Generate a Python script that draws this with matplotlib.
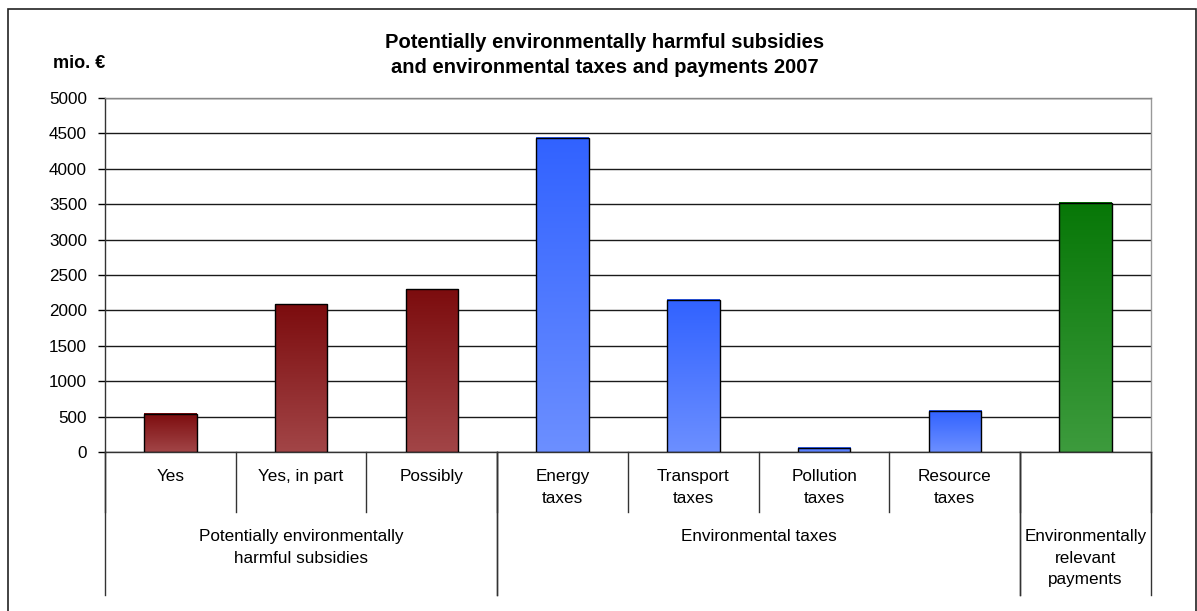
import numpy as np
import matplotlib.pyplot as plt
from matplotlib.colors import LinearSegmentedColormap
from matplotlib.patches import Rectangle
import matplotlib.transforms as mtransforms

plt.rcParams['font.family'] = ['Liberation Sans', 'DejaVu Sans']

# values in mio. EUR, 2007
categories = ["Yes", "Yes, in part", "Possibly",
              "Energy\ntaxes", "Transport\ntaxes", "Pollution\ntaxes", "Resource\ntaxes",
              ""]
values = [540, 2090, 2300, 4440, 2150, 60, 580, 3520]
kinds = ["sub", "sub", "sub", "tax", "tax", "tax", "tax", "pay"]

groups = ["Potentially environmentally\nharmful subsidies",
          "Environmental taxes",
          "Environmentally\nrelevant\npayments"]
group_sizes = [3, 4, 1]

# top colour -> bottom colour of each bar gradient
gradients = {
    "sub": ("#7c0c0e", "#a24547"),
    "tax": ("#3162ff", "#6c8fff"),
    "pay": ("#077707", "#3d9b3d"),
}

FS = 12.3

fig = plt.figure(figsize=(11.97, 6.11), dpi=100)
ax = fig.add_axes([105 / 1197, 1 - 452 / 611, (1151 - 105) / 1197, (452 - 98) / 611])

x = np.arange(len(values))
bars = ax.bar(x, values, width=0.4, facecolor="none", edgecolor="black", linewidth=1.0, zorder=3)

grad = np.linspace(0, 1, 256).reshape(-1, 1)
for bar, k in zip(bars, kinds):
    cmap = LinearSegmentedColormap.from_list(k, [gradients[k][1], gradients[k][0]])
    x0, w, h = bar.get_x(), bar.get_width(), bar.get_height()
    ax.imshow(grad, cmap=cmap, origin="lower", aspect="auto",
              extent=(x0, x0 + w, 0, h), zorder=2)

ax.set_xlim(-0.5, len(values) - 0.5)
ax.set_ylim(0, 5000)
ax.set_yticks(np.arange(0, 5001, 500))
ax.set_xticks([])
ax.tick_params(axis="y", labelsize=FS, length=5, width=1, direction="out", pad=8)
ax.yaxis.grid(True, color="#1a1a1a", linewidth=1.0, zorder=1)
ax.set_axisbelow(True)

ax.spines["left"].set_color("#333333")
ax.spines["bottom"].set_color("#333333")
ax.spines["top"].set_color("#888888")
ax.spines["right"].set_color("#999999")
for s in ax.spines.values():
    s.set_linewidth(1.0)

# two-level category axis below the bars
trans = mtransforms.blended_transform_factory(ax.transData, ax.transAxes)
lvl1 = -(512 - 452) / (452 - 98)
lvl2 = -(595 - 452) / (452 - 98)

for b in np.arange(len(values) + 1) - 0.5:
    ax.plot([b, b], [0, lvl1], transform=trans, color="#333333", lw=1.0, clip_on=False)

start = 0
for g, n in zip(groups, group_sizes):
    for b in (start - 0.5, start + n - 0.5):
        ax.plot([b, b], [0, lvl2], transform=trans, color="#333333", lw=1.0, clip_on=False)
    ax.text(start + (n - 1) / 2, -(529 - 452) / (452 - 98), g, transform=trans,
            ha="center", va="top", fontsize=FS, linespacing=1.55)
    start += n

for xi, c in zip(x, categories):
    ax.text(xi, -(469 - 452) / (452 - 98), c, transform=trans,
            ha="center", va="top", fontsize=FS, linespacing=1.55)

fig.text(605 / 1197, 1 - 33 / 611,
         "Potentially environmentally harmful subsidies\nand environmental taxes and payments 2007",
         ha="center", va="top", fontsize=14.5, fontweight="bold", linespacing=1.4)
fig.text(79 / 1197, 1 - 63 / 611, "mio. €", ha="center", va="center",
         fontsize=13, fontweight="bold")

# outer chart frame
fig.patches.append(Rectangle((8 / 1197, -0.01), (1196 - 8) / 1197, 1 - 9 / 611 + 0.01,
                             transform=fig.transFigure, fill=False,
                             edgecolor="#222222", linewidth=1.2))

fig.savefig("out.png", dpi=100)
